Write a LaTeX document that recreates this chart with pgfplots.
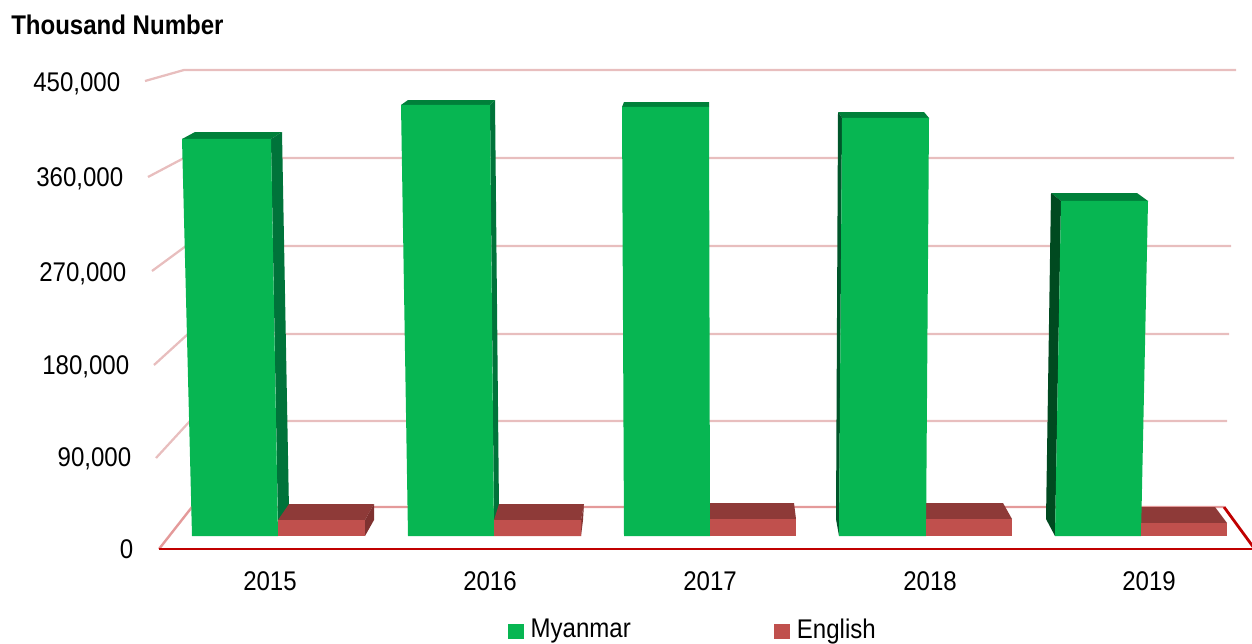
\documentclass[border=0pt]{standalone}
\usepackage{fontspec}
\setmainfont[FakeStretch=0.89]{Liberation Sans}
\usepackage{pgfplots}
\pgfplotsset{compat=1.18}
\newcommand\F{\fontsize{20.25pt}{24pt}\selectfont}
\definecolor{gfront}{HTML}{07B652}
\definecolor{gtop}{HTML}{00803A}
\definecolor{gside}{HTML}{00733A}
\definecolor{gleft}{HTML}{004A20}
\definecolor{gleftb}{HTML}{00562A}
\definecolor{rfront}{HTML}{C0504D}
\definecolor{rtop}{HTML}{8E3A38}
\definecolor{rside}{HTML}{7F3230}
\definecolor{gridc}{HTML}{E8BEBE}
\definecolor{backc}{HTML}{E49A9A}
\definecolor{floorc}{HTML}{C00000}
\pgfplotsset{
  base/.style={scale only axis,width=939pt,height=482.25pt,xmin=0,xmax=1252},
  poly/.style={draw=none,fill=#1,mark=none,forget plot},
}
\begin{document}
\begin{tikzpicture}
\path[use as bounding box] (0,0) rectangle (939pt,482.25pt);
% pixel-aligned axis: walls, floor, and the depth faces of the 3D bars
\begin{axis}[base,ymin=0,ymax=643,y dir=reverse,hide axis,clip=true]
\addplot[gridc,line width=1.7pt,mark=none] coordinates {(145,81)(184,70)(1236,70)};
\addplot[gridc,line width=1.7pt,mark=none] coordinates {(148,177)(184,158)(1234,158)};
\addplot[gridc,line width=1.7pt,mark=none] coordinates {(152,271)(186,246)(1231,246)};
\addplot[gridc,line width=1.7pt,mark=none] coordinates {(154,365)(188,334)(1229,334)};
\addplot[gridc,line width=1.7pt,mark=none] coordinates {(156,458)(190,421)(1227,421)};
\addplot[backc,line width=1.8pt,mark=none] coordinates {(159,549)(192,507)(1224,507)};
\addplot[floorc,line width=2.1pt,mark=none] coordinates {(1224,507)(1254,548)};
\addplot[floorc,line width=2.1pt,mark=none] coordinates {(159,549)(1252,549)};
% green tops and sides
\addplot[poly=gtop] coordinates {(182,139)(195,132)(282,132)(271,139)};
\addplot[poly=gside] coordinates {(271,139)(282,132)(289,510)(278,525)};
\addplot[poly=gtop] coordinates {(401,105)(408,100)(495,100)(490,105)};
\addplot[poly=gside] coordinates {(490,105)(495,100)(499,510)(494,525)};
\addplot[poly=gtop] coordinates {(622,107)(624,102)(709,102)(709,107)};
\addplot[poly=gtop] coordinates {(842,118)(838,112)(924,112)(929,118)};
\addplot[poly=gleftb] coordinates {(838,112)(842,118)(839,536)(836,519)};
\addplot[poly=gtop] coordinates {(1061,201)(1051,193)(1137,193)(1148,201)};
\addplot[poly=gleft] coordinates {(1051,193)(1061,201)(1055,536)(1046,519)};
% red tops and sides
\addplot[poly=rtop] coordinates {(278,520)(289,504)(374,504)(365,520)};
\addplot[poly=rside] coordinates {(365,520)(374,504)(374,520)(365,536)};
\addplot[poly=rtop] coordinates {(494,520)(499,504)(584,504)(581,520)};
\addplot[poly=rside] coordinates {(581,520)(584,504)(583,520)(581,536)};
\addplot[poly=rtop] coordinates {(710,519)(710,503)(794,503)(796,519)};
\addplot[poly=rtop] coordinates {(926,519)(926,503)(1003,503)(1012,519)};
\addplot[poly=rtop] coordinates {(1141,523)(1141,507)(1215,507)(1227,523)};
% texts
\node[anchor=west,inner sep=0pt,font=\F\bfseries] at (axis cs:11,25) {Thousand Number};
\node[anchor=east,inner sep=0pt,font=\F] at (axis cs:120.5,83.5) {450,000};
\node[anchor=east,inner sep=0pt,font=\F] at (axis cs:123.5,178.5) {360,000};
\node[anchor=east,inner sep=0pt,font=\F] at (axis cs:126.5,273.5) {270,000};
\node[anchor=east,inner sep=0pt,font=\F] at (axis cs:129.5,366.5) {180,000};
\node[anchor=east,inner sep=0pt,font=\F] at (axis cs:131.5,458.5) {90,000};
\node[anchor=east,inner sep=0pt,font=\F] at (axis cs:133.5,549) {0};
\end{axis}
% value axis: front faces of the bars, year labels, legend
\begin{axis}[base,ymin=-104860,ymax=525280,
  axis y line=none,axis x line=bottom,x axis line style={draw=none,-},
  major tick length=0pt,
  xtick={270,490,710,930,1149},
  xticklabels={2015,2016,2017,2018,2019},
  xticklabel style={font=\F,anchor=center,yshift=46.5pt},
  xtick pos=bottom,
  clip=false,
  legend columns=2,
  legend cell align=left,
  legend style={draw=none,fill=none,inner sep=0pt,outer sep=0pt,font=\F,
    at={(axis cs:508,-91400)},anchor=west,
    /tikz/every even column/.style={column sep=106.6pt},
    nodes={inner sep=1pt}},
  legend image code/.code={\fill[#1] (0pt,-7pt) rectangle (12pt,4pt);},
]
\addplot[draw=none,fill=gfront,mark=none] coordinates {(192,0)(278,0)(271,389060)(182,389060)};
\addlegendentry{\hspace{4pt}Myanmar}
\addplot[draw=none,fill=rfront,mark=none] coordinates {(278,0)(365,0)(365,15680)(278,15680)};
\addlegendentry{\hspace{4pt}English}
\addplot[poly=gfront] coordinates {(408,0)(494,0)(490,422380)(401,422380)};
\addplot[poly=rfront] coordinates {(494,0)(581,0)(581.5,15680)(494,15680)};
\addplot[poly=gfront] coordinates {(624,0)(710,0)(709,420420)(622,420420)};
\addplot[poly=rfront] coordinates {(710,0)(796,0)(796,16660)(710,16660)};
\addplot[poly=gfront] coordinates {(839,0)(926,0)(929,409640)(842,409640)};
\addplot[poly=rfront] coordinates {(926,0)(1012,0)(1012,16660)(926,16660)};
\addplot[poly=gfront] coordinates {(1055,0)(1141,0)(1148,328300)(1061,328300)};
\addplot[poly=rfront] coordinates {(1141,0)(1227,0)(1227,12740)(1141,12740)};
\end{axis}
\end{tikzpicture}
\end{document}
